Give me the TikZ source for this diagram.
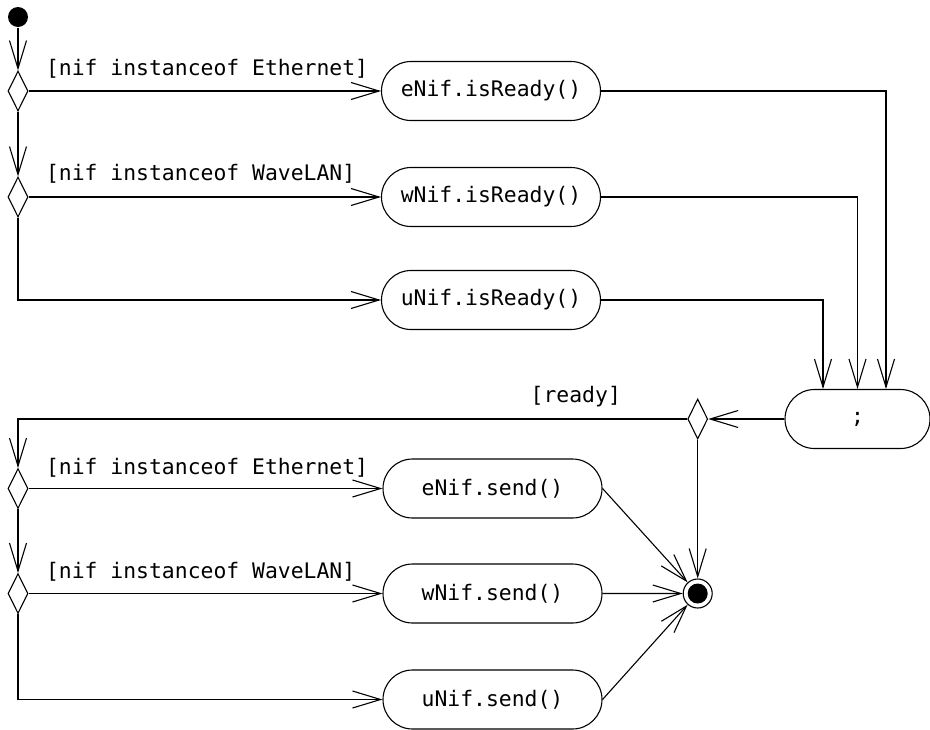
\documentclass[tikz,border=0pt]{standalone}
\usepackage{fontspec}
\setmonofont{DejaVu Sans Mono}
\usetikzlibrary{arrows.meta,positioning,shapes.geometric,shapes.misc}

\begin{document}
\begin{tikzpicture}[
  x=1pt, y=-1pt,
  line width=1.1pt,
  activity/.style={rounded rectangle,draw,minimum width=219pt,minimum height=59pt,inner sep=0pt,font=\ttfamily\fontsize{21.4}{24}\selectfont},
  choice/.style={diamond,draw,minimum width=20pt,minimum height=40pt,inner sep=0pt},
  initial/.style={circle,fill=black,minimum size=20pt,inner sep=0pt},
  final/.style={circle,draw,fill=white,minimum size=29pt,inner sep=0pt},
  guard/.style={inner sep=0pt,font=\ttfamily\fontsize{21.4}{24}\selectfont},
  flow/.style={-{Straight Barb[length=28pt,width=17pt]}}
]
\useasboundingbox (0,0) rectangle (930,729);
\node[initial] (init) at (18,17) {};
\node[choice] (d1) at (18,91) {};
\node[choice] (d2) at (18,197) {};
\node[activity] (eRdy) at (491,91) {eNif.isReady()};
\node[activity] (wRdy) at (491,197) {wNif.isReady()};
\node[activity] (uRdy) at (491,300) {uNif.isReady()};
\node[activity,minimum width=145pt] (join) at (857.5,419) {;};
\node[choice] (dRdy) at (697.7,419) {};
\node[choice] (d3) at (18,488.5) {};
\node[choice] (d4) at (18,593.5) {};
\node[activity] (eSnd) at (492.5,488.5) {eNif.send()};
\node[activity] (wSnd) at (492.5,593.5) {wNif.send()};
\node[activity] (uSnd) at (492.5,699.5) {uNif.send()};
\node[final] (fin) at (697.7,593.5) {};
\node[initial] (finDot) at (fin.center) {};
\node[guard,anchor=west] (gEth1) at (45.5,68.5) {[nif instanceof Ethernet]};
\node[guard,anchor=west] (gWav1) at (45.5,174) {[nif instanceof WaveLAN]};
\node[guard] (gRdy) at (575.8,396.5) {[ready]};
\node[guard,anchor=west] (gEth2) at (45.5,467.5) {[nif instanceof Ethernet]};
\node[guard,anchor=west] (gWav2) at (45.5,572) {[nif instanceof WaveLAN]};
\draw[flow] (init) -- (d1);
\draw[flow] (d1) -- (eRdy);
\draw[flow] (d1) -- (d2);
\draw[flow] (d2) -- (wRdy);
\draw[flow] (d2) |- (uRdy);
\draw[flow] (eRdy) -| ([xshift=28.5pt]join.north);
\draw[flow] (wRdy) -| (join.north);
\draw[flow] (uRdy) -| ([xshift=-34.5pt]join.north);
\draw[flow] (join) -- (dRdy);
\draw[flow] (dRdy) -| (d3);
\draw[flow] (dRdy) -- (fin);
\draw[flow] (d3) -- (eSnd);
\draw[flow] (d3) -- (d4);
\draw[flow] (d4) -- (wSnd);
\draw[flow] (d4) |- (uSnd);
\draw[flow] (eSnd.east) -- (fin);
\draw[flow] (wSnd) -- (fin);
\draw[flow] (uSnd.east) -- (fin);
\end{tikzpicture}
\end{document}
